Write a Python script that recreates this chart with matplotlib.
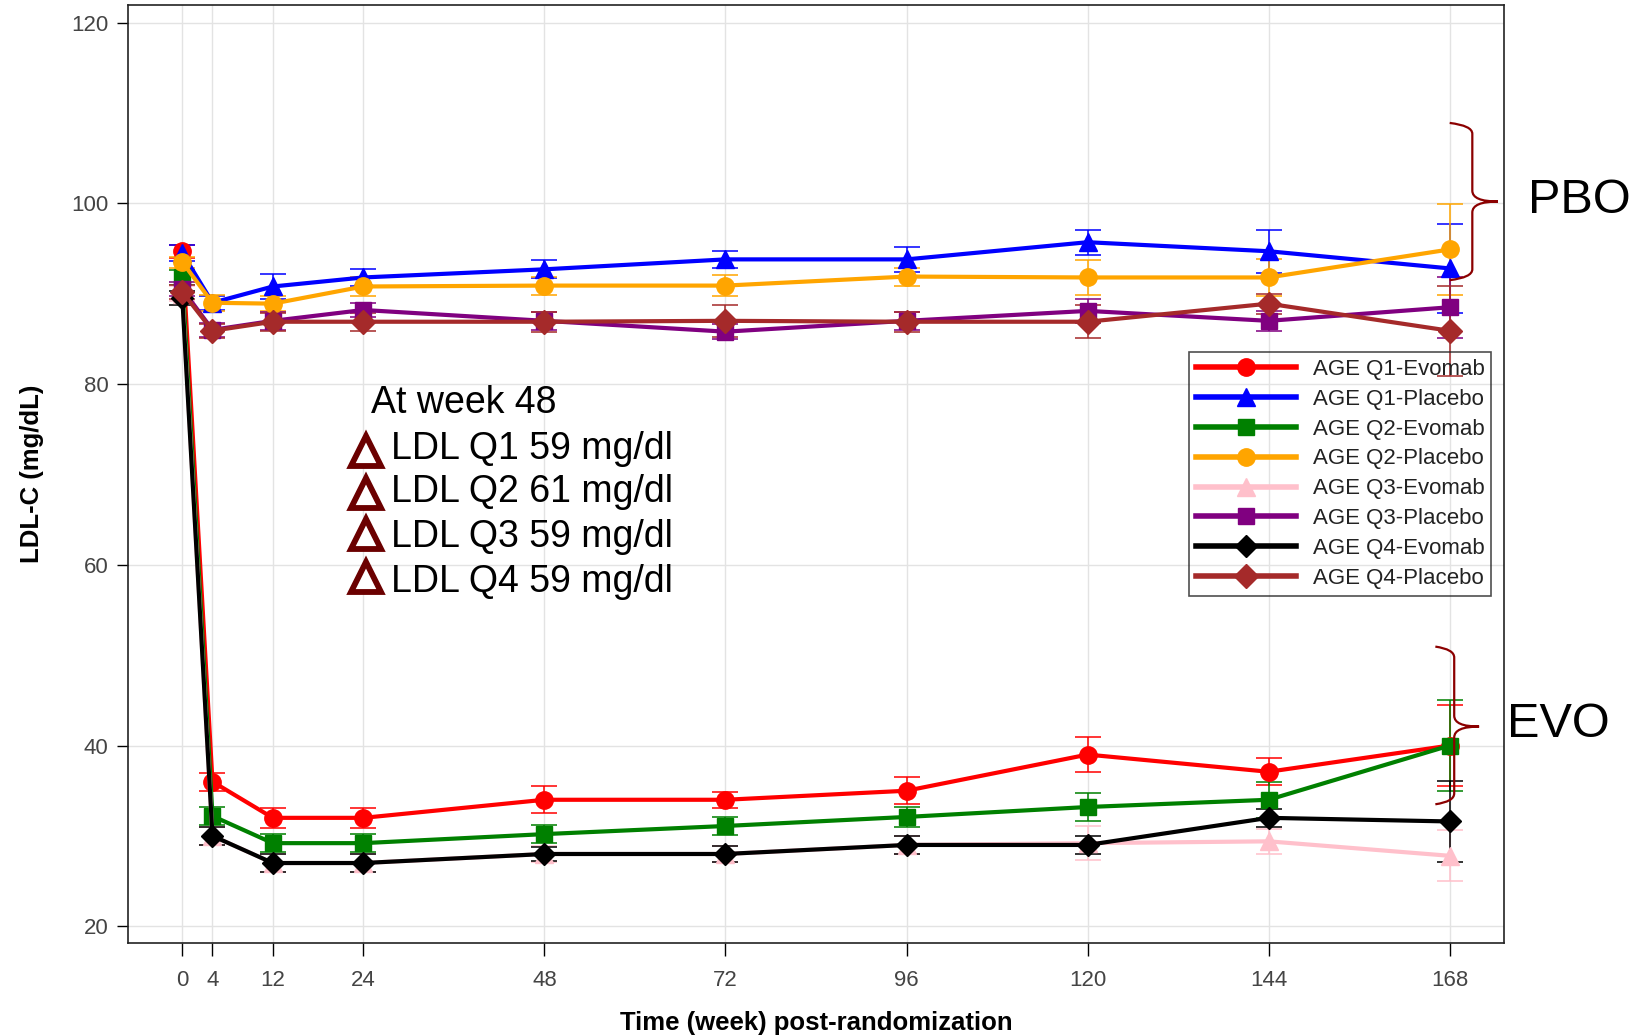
import matplotlib
matplotlib.use("Agg")
import matplotlib.pyplot as plt
from matplotlib.path import Path
from matplotlib.patches import PathPatch

plt.rcParams['font.family'] = ['Liberation Sans', 'DejaVu Sans']

# weeks post-randomization
weeks = [0, 4, 12, 24, 48, 72, 96, 120, 144, 168]

# mean LDL-C (mg/dL) and error bar half-widths
q1_evo = [94.7, 36.0, 32.0, 32.0, 34.0, 34.0, 35.0, 39.0, 37.1, 40.0]
q1_evo_se = [0.7, 1.0, 1.1, 1.1, 1.5, 0.9, 1.5, 1.9, 1.5, 4.5]
q1_pbo = [94.5, 89.0, 90.8, 91.8, 92.7, 93.8, 93.8, 95.7, 94.7, 92.8]
q1_pbo_se = [0.9, 0.8, 1.4, 0.9, 1.0, 0.9, 1.4, 1.4, 2.4, 4.9]
q2_evo = [91.8, 32.2, 29.2, 29.2, 30.2, 31.1, 32.1, 33.2, 34.0, 40.0]
q2_evo_se = [0.8, 1.0, 1.0, 1.0, 1.0, 1.0, 1.1, 1.5, 2.0, 5.0]
q2_pbo = [93.5, 89.0, 88.9, 90.8, 90.9, 90.9, 91.9, 91.8, 91.8, 94.9]
q2_pbo_se = [0.6, 0.9, 0.8, 1.0, 1.0, 1.2, 1.0, 1.9, 2.0, 5.0]
q3_evo = [90.0, 30.0, 27.0, 27.0, 28.0, 28.0, 29.0, 29.2, 29.4, 27.8]
q3_evo_se = [0.8, 1.0, 1.0, 1.0, 0.9, 0.9, 1.0, 1.9, 1.4, 2.8]
q3_pbo = [90.5, 86.0, 87.0, 88.2, 87.0, 85.8, 87.0, 88.1, 87.0, 88.5]
q3_pbo_se = [0.8, 0.8, 1.0, 0.8, 1.0, 0.8, 1.0, 1.3, 1.1, 3.4]
q4_evo = [89.5, 30.0, 27.0, 27.0, 28.0, 28.0, 29.0, 29.0, 32.0, 31.6]
q4_evo_se = [0.8, 1.0, 1.0, 1.0, 0.8, 0.9, 1.0, 1.0, 1.0, 4.5]
q4_pbo = [90.2, 85.9, 86.9, 86.9, 86.9, 87.0, 86.9, 86.9, 88.9, 85.9]
q4_pbo_se = [0.8, 0.8, 1.0, 1.0, 1.1, 1.8, 1.1, 1.8, 1.1, 5.0]

labels = ["AGE Q1-Evomab", "AGE Q1-Placebo", "AGE Q2-Evomab", "AGE Q2-Placebo",
          "AGE Q3-Evomab", "AGE Q3-Placebo", "AGE Q4-Evomab", "AGE Q4-Placebo"]
means = [q1_evo, q1_pbo, q2_evo, q2_pbo, q3_evo, q3_pbo, q4_evo, q4_pbo]
errs = [q1_evo_se, q1_pbo_se, q2_evo_se, q2_pbo_se, q3_evo_se, q3_pbo_se, q4_evo_se, q4_pbo_se]
colors = ["#ff0000", "#0000ff", "#008000", "#ffa500", "#ffc0cb", "#800080", "#000000", "#a52a2a"]
markers = ["o", "^", "s", "o", "^", "s", "D", "D"]
msizes = [12.5, 12.5, 11.5, 12.5, 12.5, 11.5, 11.5, 12.5]

annot_lines = ["LDL Q1 59 mg/dl", "LDL Q2 61 mg/dl", "LDL Q3 59 mg/dl", "LDL Q4 59 mg/dl"]

fig = plt.figure(figsize=(16.41, 10.35), dpi=100)
ax = fig.add_axes([128 / 1641, 92 / 1035, 1376 / 1641, 938 / 1035])

for lab, m, e, c, mk, ms in zip(labels, means, errs, colors, markers, msizes):
    ax.errorbar(weeks, m, yerr=e, fmt="none", ecolor=c, elinewidth=1.3,
                capsize=9.5, capthick=1.3, alpha=0.85, zorder=3)
    ax.plot(weeks, m, color=c, marker=mk, ms=ms, lw=3.0, label=lab, zorder=4)

ax.set_xlim(-7.2, 175.2)
ax.set_ylim(18.15, 121.95)
ax.set_xticks(weeks)
ax.set_yticks([20, 40, 60, 80, 100, 120])
ax.grid(True, color="#e3e3e3", lw=1.0, zorder=0)
ax.set_axisbelow(True)
ax.tick_params(axis="x", length=9.5, width=1.0, pad=10, labelsize=16, labelcolor="#444444")
ax.tick_params(axis="y", length=8, width=1.0, pad=6, labelsize=16, labelcolor="#444444")
for sp in ax.spines.values():
    sp.set_linewidth(1.2)
    sp.set_color("#222222")

ax.set_xlabel("Time (week) post-randomization", fontsize=18.5, fontweight="bold", labelpad=14)
ax.set_ylabel("LDL-C (mg/dL)", fontsize=18.5, fontweight="bold", labelpad=20)

leg = ax.legend(loc="upper right", bbox_to_anchor=(0.9906, 0.630), borderaxespad=0,
                fontsize=16, handlelength=4.5, labelspacing=0.40, handletextpad=0.75,
                borderpad=0.3, fancybox=False, numpoints=1)
leg.get_frame().set_facecolor("none")
leg.get_frame().set_edgecolor("#222222")
leg.get_frame().set_linewidth(1.2)
for t in leg.get_texts():
    t.set_color("#222222")
for h in leg.get_lines():
    h.set_linewidth(4)

# "At week 48" annotation
ax.text(25.0, 77.9, "At week 48", fontsize=27, va="center", ha="left")
tri_y = [72.6, 68.0, 63.4, 58.7]
text_y = [72.8, 68.1, 63.1, 58.1]
for ty, ly, s in zip(tri_y, text_y, annot_lines):
    ax.plot([24.4], [ty], marker="^", ms=21, mfc="white", mec="#6b0000", mew=4.2,
            ls="none", zorder=6)
    ax.text(27.7, ly, s, fontsize=27, va="center", ha="left")


def brace(x0, xv, xt, ylo, ymid, yhi, dy=1.2):
    verts = [(x0, yhi), (xv, yhi - 0.3), (xv, yhi - dy),
             (xv, ymid + dy), (xv, ymid), (xt, ymid),
             (xv, ymid), (xv, ymid - dy),
             (xv, ylo + dy), (xv, ylo + 0.3), (x0, ylo)]
    codes = [Path.MOVETO, Path.CURVE3, Path.CURVE3,
             Path.LINETO, Path.CURVE3, Path.CURVE3,
             Path.CURVE3, Path.CURVE3,
             Path.LINETO, Path.CURVE3, Path.CURVE3]
    p = PathPatch(Path(verts, codes), fill=False, ec="#8b0000", lw=1.6,
                  clip_on=False, zorder=7)
    ax.add_patch(p)


brace(168.0, 171.0, 174.4, 91.5, 100.2, 108.9)
brace(166.1, 168.6, 171.9, 33.5, 42.1, 50.95)
ax.text(178.4, 100.3, "PBO", fontsize=35, va="center", ha="left", clip_on=False)
ax.text(175.6, 42.3, "EVO", fontsize=35, va="center", ha="left", clip_on=False)

fig.savefig("out.png", dpi=100)
